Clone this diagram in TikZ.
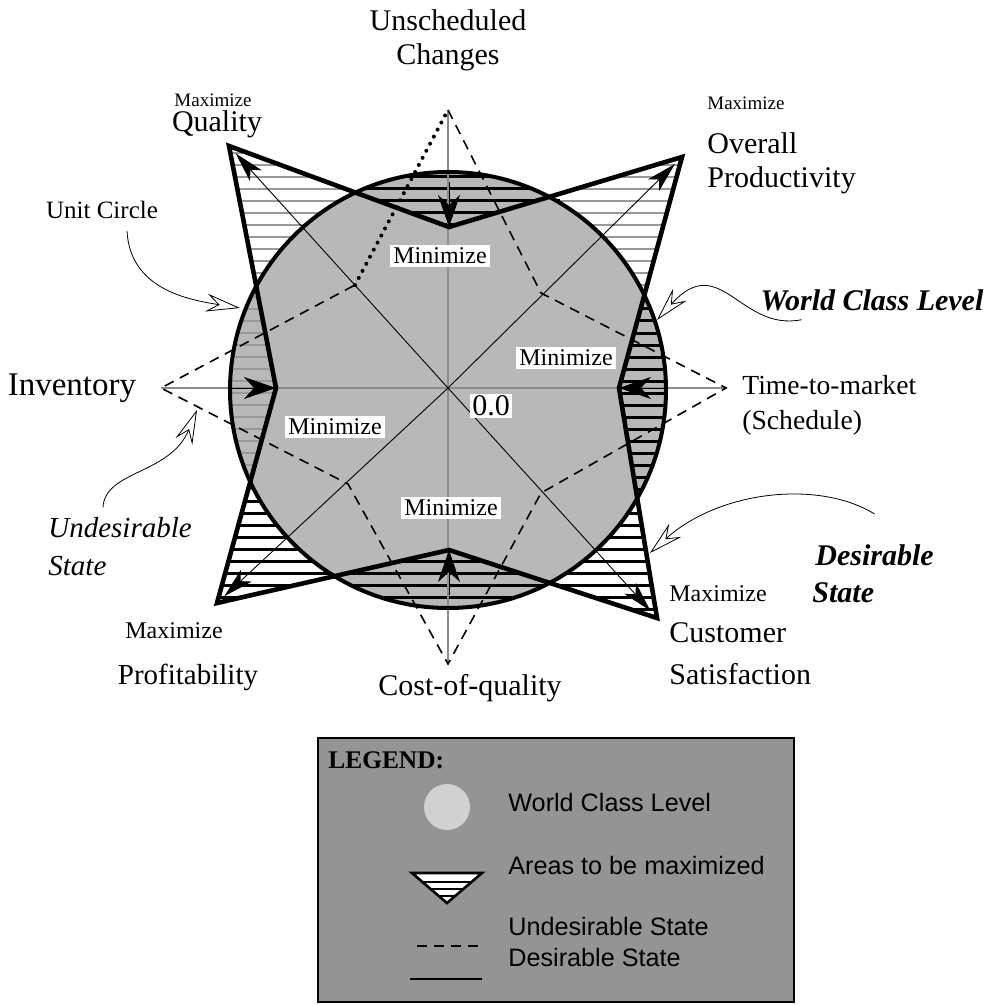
\documentclass[tikz,border=0pt]{standalone}
\usepackage{fontspec}
\setmainfont{Liberation Serif}
\setsansfont{Liberation Sans}
\usetikzlibrary{arrows.meta}

\begin{document}
\begin{tikzpicture}[x=0.5pt,y=-0.5pt,
	big/.style={font=\fontsize{15}{17}\selectfont},
	small/.style={font=\fontsize{12}{14}\selectfont},
	tiny/.style={font=\fontsize{9.5}{11}\selectfont},
	emph/.style={font=\fontsize{14.5}{17}\selectfont\itshape},
	strong/.style={font=\fontsize{15}{17}\selectfont\bfseries\itshape},
	minlabel/.style={small, fill=white, inner sep=1.5pt},
	legendtext/.style={anchor=west, inner sep=0pt, font=\sffamily\fontsize{12.6}{14}\selectfont},
	axis/.style={black!45, line width=0.7pt},
	diag/.style={line width=0.45pt, -{Stealth[length=15pt,width=8pt,inset=4pt]}, shorten >=5pt},
	inarrow/.style={line width=0.5pt, -{Stealth[length=16pt,width=11pt,inset=5pt]}},
	undesired/.style={dash pattern=on 5pt off 3.5pt, line width=0.8pt},
	desired/.style={line width=2.3pt, line join=miter},
	callout/.style={line width=0.4pt, -{Stealth[open,length=17pt,width=9pt,inset=6pt]}},
	hatchgray/.style={black!40, line width=1pt},
	hatchblack/.style={black, line width=1.5pt}]
	\useasboundingbox (0,0) rectangle (995,1005);
	% centre of the axes and of the unit circle
	\coordinate (o) at (448,388);
	\coordinate (c) at (448,390);
	% desirable state
	\coordinate (quality) at (229,146);
	\coordinate (tin) at (449,227);
	\coordinate (prod) at (682,157);
	\coordinate (rin) at (619,388);
	\coordinate (cust) at (657,618);
	\coordinate (bin) at (449,550);
	\coordinate (profit) at (217,603);
	\coordinate (lin) at (276,388);
	% undesirable state
	\coordinate (ut) at (448,110);
	\coordinate (uur) at (541,293);
	\coordinate (ur) at (726,388);
	\coordinate (ulr) at (541,493);
	\coordinate (ub) at (448,664);
	\coordinate (ull) at (348,484);
	\coordinate (ul) at (161,388);
	\coordinate (uul) at (355,285);

	\fill[black!28] (c) circle[radius=218];
	\begin{scope}[even odd rule]
		\clip (quality) -- (tin) -- (prod) -- (rin) -- (cust) -- (bin) -- (profit) -- (lin) -- cycle
			(c) circle[radius=218];
		\foreach \y in {153,165,...,495} \draw[hatchgray] (150,\y) -- (448,\y);
		\foreach \y in {153,165,...,290} \draw[hatchgray] (448,\y) -- (720,\y);
		\foreach \y in {177,189,...,225} \draw[hatchblack] (345,\y) -- (560,\y);
		\foreach \y in {297,309,...,645} \draw[hatchblack] (448,\y) -- (720,\y);
		\foreach \y in {501,513,...,645} \draw[hatchblack] (150,\y) -- (448,\y);
	\end{scope}

	\draw[axis] (ul) -- (ur);
	\draw[axis] (ut) -- (ub);
	\foreach \tip in {quality,prod,cust,profit}
		\draw[diag] (o) -- (\tip);
	\draw[undesired] (ut) -- (uur) -- (ur) -- (ulr) -- (ub) -- (ull) -- (ul) -- (uul);
	\draw[line width=2pt, dash pattern=on 0pt off 4pt, line cap=round] (uul) -- (ut);
	\draw[line width=2pt] (c) circle[radius=218];
	\draw[desired] (quality) -- (tin) -- (prod) -- (rin) -- (cust) -- (bin) -- (profit) -- (lin) -- cycle;
	\draw[inarrow] (tin) ++(0,-45) -- (tin);
	\draw[inarrow] (bin) ++(0,45) -- (bin);
	\draw[inarrow] (lin) ++(-45,0) -- (lin);
	\draw[inarrow] (rin) ++(45,0) -- (rin);

	\node[minlabel] (mint) at (440,256) {Minimize};
	\node[minlabel] (minr) at (566,358) {Minimize};
	\node[minlabel] (minl) at (335,427) {Minimize};
	\node[minlabel] (minb) at (451,508) {Minimize};
	\node[fill=white, inner sep=1pt, font=\fontsize{15}{17}\selectfont] (zero) at (491,406) {0.0};

	% axis names
	\node[big] (unsched) at (448,20) {Unscheduled};
	\node[big] (changes) at (448,57) {Changes};
	\node[tiny] (qmax) at (213,100) {Maximize};
	\node[big] (qual) at (217,124) {Quality};
	\node[tiny, anchor=west, inner sep=0pt] (pmax) at (707,103) {Maximize};
	\node[big, anchor=west, inner sep=0pt] (overall) at (707,143) {Overall};
	\node[big, anchor=west, inner sep=0pt] (produc) at (707,180) {Productivity};
	\node[font=\fontsize{16.5}{18}\selectfont] (inv) at (72,388) {Inventory};
	\node[font=\fontsize{13.8}{16}\selectfont, anchor=west, inner sep=0pt] (ttm) at (742,385) {Time-to-market};
	\node[font=\fontsize{13.8}{16}\selectfont, anchor=west, inner sep=0pt] (sched) at (742,423) {(Schedule)};
	\node[small, anchor=west, inner sep=0pt] (cmax) at (669,594) {Maximize};
	\node[big, anchor=west, inner sep=0pt] (customer) at (669,633) {Customer};
	\node[big, anchor=west, inner sep=0pt] (satisf) at (669,674) {Satisfaction};
	\node[small] (fmax) at (174,631) {Maximize};
	\node[font=\fontsize{14.5}{17}\selectfont] (profitab) at (188,677) {Profitability};
	\node[big] (cost) at (470,688) {Cost-of-quality};

	% callouts
	\node[font=\fontsize{12.5}{14}\selectfont] (unit) at (102,210) {Unit Circle};
	\node[strong] (wcl) at (872,300) {World Class Level};
	\node[emph, anchor=west, inner sep=0pt] (undes) at (48,528) {Undesirable};
	\node[emph, anchor=west, inner sep=0pt] (undstate) at (48,566) {State};
	\node[strong, anchor=west, inner sep=0pt] (des) at (815,555) {Desirable};
	\node[strong, anchor=west, inner sep=0pt] (desstate) at (812,593) {State};
	\coordinate (unittip) at (240,308);
	\coordinate (wcltip) at (657,320);
	\coordinate (undtip) at (197,410);
	\coordinate (destip) at (650,553);
	\draw[callout] (unit.south) ++(25,5) .. controls (130,290) and (190,300) .. (unittip);
	\draw[callout] (wcl.south west) ++(48,2) .. controls (740,332) and (720,250) .. (wcltip);
	\draw[callout] (undes.north west) ++(55,-10) .. controls (105,470) and (170,475) .. (undtip);
	\draw[callout] (des.north) ++(0,-30) .. controls (820,480) and (720,490) .. (destip);

	% legend
	\draw[fill=black!42, line width=0.8pt] (318,738) coordinate (lgnw) rectangle (794,1002) coordinate (lgse);
	\node[anchor=west, inner sep=0pt, font=\fontsize{12.7}{15}\selectfont\bfseries] (lgtitle) at (328,760) {LEGEND:};
	\fill[black!18] (447,807) circle[radius=23];
	\node[legendtext] (lgwcl) at (508,802) {World Class Level};
	\coordinate (tria) at (412,873);
	\coordinate (trib) at (482,873);
	\coordinate (tric) at (447,903);
	\begin{scope}
		\clip (tria) -- (trib) -- (tric) -- cycle;
		\fill[white] (tria) -- (trib) -- (tric) -- cycle;
		\foreach \y in {882,889,896} \draw[line width=1.3pt] (400,\y) -- (500,\y);
	\end{scope}
	\draw[line width=1.3pt] (tria) -- (trib) -- (tric) -- cycle;
	\node[legendtext] (lgmax) at (508,865) {Areas to be maximized};
	\node[legendtext] (lgund) at (508,926) {Undesirable State};
	\node[legendtext] (lgdes) at (508,957) {Desirable State};
	\coordinate (dsa) at (417,946);
	\coordinate (dsb) at (484,946);
	\coordinate (sla) at (410,979);
	\coordinate (slb) at (482,979);
	\draw[undesired] (dsa) -- (dsb);
	\draw[line width=1pt] (sla) -- (slb);
\end{tikzpicture}
\end{document}
